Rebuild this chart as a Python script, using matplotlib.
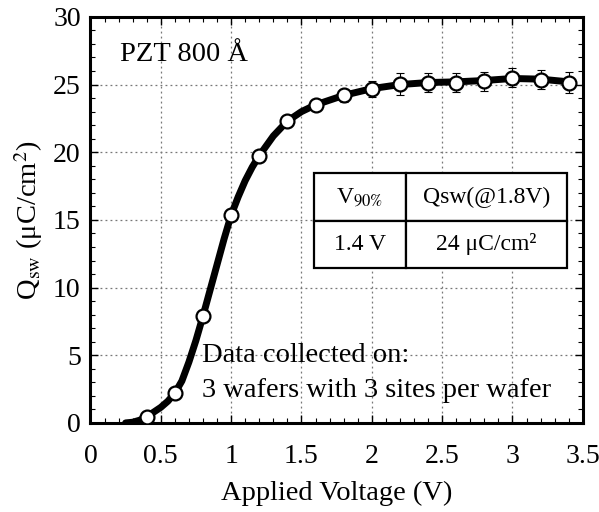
import matplotlib
matplotlib.use("Agg")
import matplotlib.pyplot as plt
from matplotlib.ticker import MultipleLocator

plt.rcParams['font.family'] = ['Liberation Serif', 'DejaVu Serif']
plt.rcParams['mathtext.fontset'] = 'stix'

# points mesures (moyenne de 3 wafers x 3 sites)
volts = [0.4, 0.6, 0.8, 1.0, 1.2, 1.4, 1.6, 1.8, 2.0, 2.2, 2.4, 2.6, 2.8, 3.0, 3.2, 3.4]
qsw = [0.47, 2.2, 7.9, 15.35, 19.75, 22.3, 23.5, 24.2, 24.7, 25.05, 25.15, 25.15, 25.25, 25.5, 25.35, 25.15]
qsw_err = [0.1, 0.2, 0.3, 0.3, 0.3, 0.4, 0.4, 0.5, 0.6, 0.8, 0.7, 0.7, 0.7, 0.7, 0.7, 0.8]

# courbe lissee
fit_v = [0.25, 0.3, 0.35, 0.4, 0.45, 0.5, 0.55, 0.6, 0.65, 0.7, 0.75, 0.8, 0.85, 0.9,
         0.95, 1.0, 1.05, 1.1, 1.15, 1.2, 1.3, 1.4, 1.5, 1.6, 1.8, 2.0, 2.2, 2.4, 2.6,
         2.8, 3.0, 3.2, 3.4]
fit_q = [0.0, 0.05, 0.2, 0.47, 0.8, 1.15, 1.6, 2.2, 3.1, 4.5, 6.1, 7.9, 9.8, 11.7,
         13.6, 15.35, 16.7, 17.9, 18.9, 19.75, 21.2, 22.3, 23.0, 23.5, 24.2, 24.7, 25.0,
         25.15, 25.2, 25.3, 25.45, 25.4, 25.2]

table_rows = [["V$_{90\\%}$", "Qsw(@1.8V)"], ["1.4 V", "24 \u03bcC/cm\u00b2"]]

fig = plt.figure(figsize=(5.99, 5.12), dpi=100)
ax = fig.add_axes([0.151, 0.174, 0.822, 0.793])

ax.grid(True, which='major', linestyle=(0, (1.5, 2.5)), color='#777777', linewidth=0.9)
ax.set_axisbelow(True)

ax.plot(fit_v, fit_q, color='black', linewidth=5, solid_capstyle='round',
        solid_joinstyle='round', zorder=3)
ax.errorbar(volts, qsw, yerr=qsw_err, fmt='none', ecolor='black', elinewidth=0.8,
            capsize=3, capthick=0.8, zorder=3)
ax.plot(volts, qsw, linestyle='none', marker='o', markersize=10, markerfacecolor='white',
        markeredgecolor='black', markeredgewidth=1.6, zorder=4)

ax.set_xlim(0, 3.5)
ax.set_ylim(0, 30)
ax.xaxis.set_major_locator(MultipleLocator(0.5))
ax.xaxis.set_minor_locator(MultipleLocator(0.1))
ax.yaxis.set_major_locator(MultipleLocator(5))
ax.yaxis.set_minor_locator(MultipleLocator(1))
ax.set_xticks([0, 0.5, 1, 1.5, 2, 2.5, 3, 3.5])
ax.set_xticklabels(['0', '0.5', '1', '1.5', '2', '2.5', '3', '3.5'])
ax.tick_params(which='both', direction='in', top=True, right=True, labelsize=20)
ax.tick_params(which='major', length=6, width=1)
ax.tick_params(which='minor', length=3.5, width=0.8)
ax.tick_params(axis='x', pad=15)
ax.tick_params(axis='y', pad=7)
for s in ax.spines.values():
    s.set_linewidth(2.2)

ax.set_xlabel('Applied Voltage (V)', fontsize=20.5, labelpad=9)
ax.set_ylabel('Q$_{\\rm sw}$ (\u03bcC/cm$^2$)', fontsize=20.5, labelpad=6)

ax.text(0.21, 27.2, 'PZT 800 \u00c5', fontsize=20.5, va='center', ha='left')
ax.text(0.79, 5.0, 'Data collected on:', fontsize=20.5, va='center', ha='left')
ax.text(0.79, 2.4, '3 wafers with 3 sites per wafer', fontsize=20.5, va='center', ha='left')

tab = ax.table(cellText=table_rows, cellLoc='center',
               colWidths=[0.187, 0.326], bbox=[0.454, 0.381, 0.513, 0.234], zorder=5)
tab.auto_set_font_size(False)
for (r, c), cell in tab.get_celld().items():
    cell.set_linewidth(1.6)
    cell.set_edgecolor('black')
    cell.set_facecolor('white')
    cell.get_text().set_fontsize(17)

fig.savefig('out.png', dpi=100)
